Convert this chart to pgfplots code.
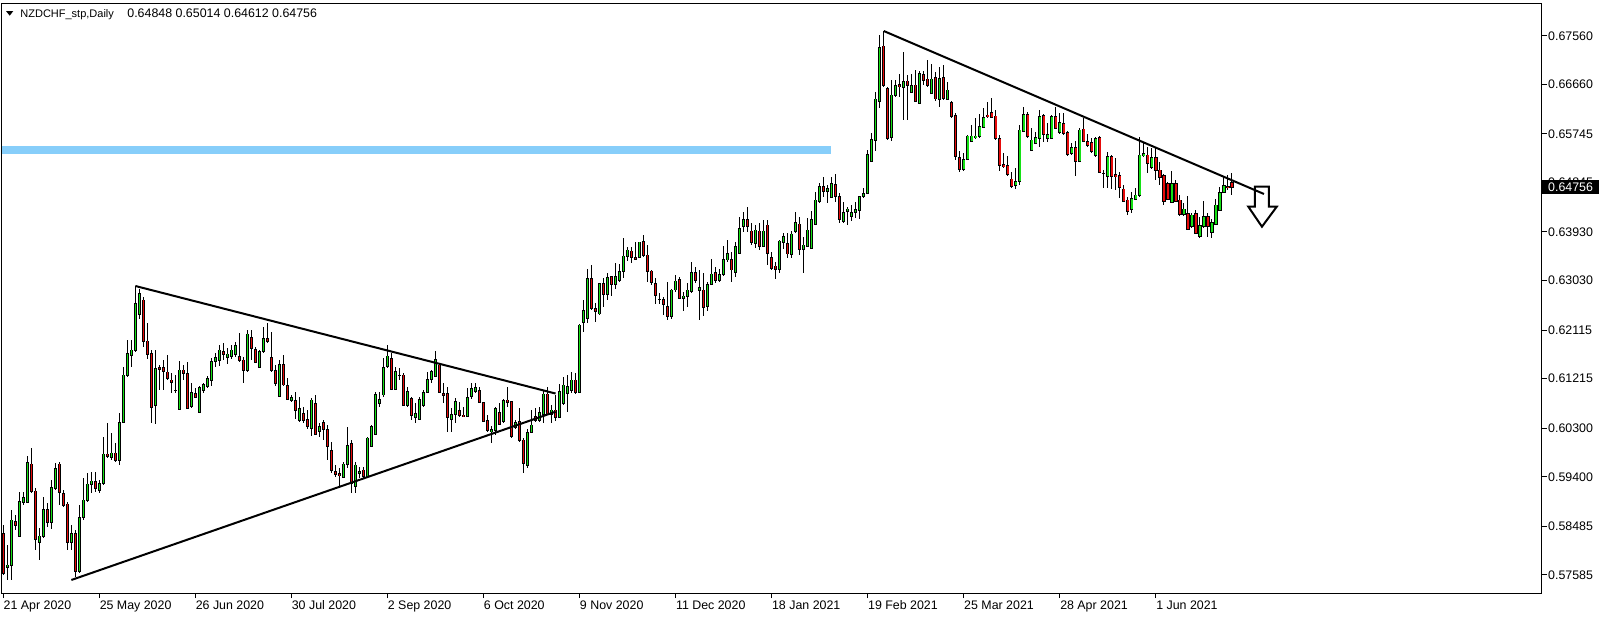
\documentclass[border=0pt]{standalone}
\usepackage{fontspec}
\setmainfont{Liberation Sans}
\usepackage{pgfplots}
\usepackage{pgfplotstable}
\pgfplotsset{compat=1.18}
\definecolor{bull}{RGB}{20,225,20}
\definecolor{bear}{RGB}{230,10,10}
\definecolor{zone}{RGB}{135,206,250}
\newcommand{\lf}{\fontsize{6.2}{7}\selectfont}

\pgfplotstableread{
x o h l c
0 0.58355 0.58508 0.57583 0.57615
1 0.57726 0.58138 0.57491 0.57768
2 0.57768 0.58786 0.57491 0.58601
3 0.58582 0.58693 0.58416 0.58495
4 0.58305 0.59125 0.58292 0.58952
5 0.58921 0.59125 0.58878 0.59026
6 0.58921 0.59785 0.58910 0.59668
7 0.59637 0.59927 0.59095 0.59125
8 0.59137 0.59187 0.58046 0.58244
9 0.58188 0.58447 0.57861 0.58305
10 0.58305 0.59032 0.58262 0.58799
11 0.58799 0.58910 0.58477 0.58551
12 0.58551 0.59341 0.58429 0.59206
13 0.59187 0.59650 0.59156 0.59557
14 0.59637 0.59680 0.58878 0.59113
15 0.59095 0.59156 0.58847 0.58878
16 0.58897 0.58939 0.58046 0.58188
17 0.58188 0.58508 0.58046 0.58355
18 0.58355 0.58416 0.57552 0.57644
19 0.57657 0.58878 0.57615 0.58651
20 0.58651 0.59372 0.58601 0.58971
21 0.58971 0.59465 0.58939 0.59267
22 0.59261 0.59494 0.59095 0.59322
23 0.59310 0.59494 0.59125 0.59187
24 0.59156 0.59341 0.59095 0.59280
25 0.59280 0.60142 0.59248 0.59822
26 0.59822 0.60390 0.59748 0.59772
27 0.59761 0.60205 0.59711 0.59841
28 0.59841 0.60020 0.59674 0.59711
29 0.59711 0.60575 0.59619 0.60409
30 0.60409 0.61437 0.60390 0.61284
31 0.61284 0.61931 0.61252 0.61685
32 0.61654 0.61931 0.61437 0.61746
33 0.61746 0.62931 0.61715 0.62598
34 0.62413 0.62870 0.62314 0.62796
35 0.62672 0.62733 0.61807 0.61900
36 0.61913 0.62240 0.61580 0.61672
37 0.61685 0.61746 0.60401 0.60686
38 0.60729 0.61746 0.60372 0.61408
39 0.61426 0.61469 0.61006 0.61395
40 0.61426 0.61561 0.61006 0.61345
41 0.61339 0.61654 0.61191 0.61215
42 0.61191 0.61315 0.60945 0.61141
43 0.61006 0.61284 0.60945 0.61003
44 0.60649 0.61548 0.60636 0.61376
45 0.61376 0.61469 0.61191 0.61315
46 0.61315 0.61530 0.60649 0.60668
47 0.60710 0.61130 0.60668 0.60964
48 0.60945 0.61038 0.60853 0.60871
49 0.60586 0.61080 0.60575 0.61056
50 0.61006 0.61141 0.60956 0.61112
51 0.61067 0.61265 0.61038 0.61223
52 0.61178 0.61593 0.61080 0.61530
53 0.61530 0.61685 0.61437 0.61611
54 0.61548 0.61839 0.61450 0.61746
55 0.61715 0.61870 0.61561 0.61672
56 0.61611 0.61778 0.61487 0.61672
57 0.61635 0.61839 0.61574 0.61746
58 0.61672 0.61900 0.61611 0.61833
59 0.61622 0.62055 0.61524 0.61548
60 0.61561 0.61622 0.61130 0.61363
61 0.61376 0.62116 0.61345 0.62042
62 0.61981 0.62116 0.61561 0.61778
63 0.61759 0.61807 0.61500 0.61511
64 0.61426 0.61746 0.61408 0.61715
65 0.61715 0.62178 0.61696 0.61963
66 0.61963 0.62240 0.61870 0.61900
67 0.61611 0.62085 0.61345 0.61363
68 0.61363 0.61469 0.61080 0.61130
69 0.60895 0.61561 0.60882 0.61469
70 0.61469 0.61654 0.61080 0.61099
71 0.61093 0.61223 0.60821 0.60834
72 0.60821 0.60914 0.60790 0.60871
73 0.60808 0.60975 0.60464 0.60623
74 0.60451 0.60882 0.60420 0.60668
75 0.60575 0.60697 0.60390 0.60451
76 0.60464 0.60636 0.60279 0.60340
77 0.60298 0.60853 0.60155 0.60821
78 0.60760 0.60914 0.60174 0.60192
79 0.60235 0.60390 0.60142 0.60327
80 0.60401 0.60451 0.60081 0.60279
81 0.60279 0.60359 0.59711 0.59970
82 0.59883 0.60050 0.59465 0.59526
83 0.59502 0.59619 0.59402 0.59452
84 0.59465 0.59557 0.59217 0.59421
85 0.59391 0.59680 0.59372 0.59637
86 0.59637 0.60316 0.59557 0.59983
87 0.60020 0.60081 0.59095 0.59280
88 0.59230 0.59680 0.59095 0.59619
89 0.59465 0.59587 0.59372 0.59502
90 0.59526 0.59587 0.59372 0.59402
91 0.59415 0.60142 0.59402 0.60118
92 0.59970 0.60359 0.59957 0.60327
93 0.60192 0.60975 0.60174 0.60932
94 0.60760 0.60975 0.60697 0.60834
95 0.60914 0.61593 0.60882 0.61426
96 0.61437 0.61839 0.61408 0.61635
97 0.61593 0.61685 0.61006 0.61019
98 0.61019 0.61437 0.61006 0.61345
99 0.61284 0.61408 0.61191 0.61282
100 0.61284 0.61315 0.60710 0.60729
101 0.60723 0.61067 0.60697 0.60975
102 0.60853 0.60882 0.60451 0.60544
103 0.60501 0.60760 0.60401 0.60575
104 0.60464 0.60882 0.60451 0.60834
105 0.60723 0.61006 0.60697 0.60956
106 0.60956 0.61345 0.60945 0.61204
107 0.61204 0.61376 0.61130 0.61345
108 0.61265 0.61733 0.61252 0.61574
109 0.61469 0.61500 0.60945 0.60956
110 0.60945 0.61130 0.60760 0.60914
111 0.60945 0.61067 0.60235 0.60501
112 0.60470 0.60668 0.60235 0.60557
113 0.60562 0.60853 0.60390 0.60790
114 0.60623 0.60790 0.60512 0.60538
115 0.60544 0.60697 0.60501 0.60512
116 0.60512 0.61038 0.60501 0.60871
117 0.60882 0.61141 0.60834 0.61038
118 0.60975 0.61141 0.60945 0.61056
119 0.61006 0.61067 0.60760 0.60771
120 0.60771 0.60790 0.60409 0.60420
121 0.60438 0.60544 0.60235 0.60253
122 0.60235 0.60340 0.60020 0.60279
123 0.60253 0.60697 0.60174 0.60668
124 0.60586 0.60760 0.60359 0.60377
125 0.60420 0.60834 0.60401 0.60808
126 0.60821 0.61056 0.60697 0.60784
127 0.60790 0.60808 0.60113 0.60142
128 0.60316 0.60451 0.60279 0.60401
129 0.60420 0.60668 0.60050 0.60081
130 0.60081 0.60113 0.59476 0.59650
131 0.59619 0.60279 0.59557 0.60216
132 0.60216 0.60636 0.60205 0.60359
133 0.60512 0.60668 0.60420 0.60438
134 0.60438 0.60697 0.60420 0.60586
135 0.60562 0.61006 0.60390 0.60932
136 0.60932 0.61067 0.60544 0.60562
137 0.60562 0.60729 0.60401 0.60636
138 0.60636 0.60914 0.60433 0.60501
139 0.60501 0.61117 0.60483 0.60975
140 0.60760 0.61252 0.60729 0.61099
141 0.60945 0.61284 0.60605 0.61067
142 0.61006 0.61345 0.60956 0.61191
143 0.61191 0.61315 0.60932 0.60956
144 0.60956 0.62220 0.60945 0.62209
145 0.62252 0.62672 0.62085 0.62474
146 0.62333 0.63240 0.62252 0.63073
147 0.63073 0.63319 0.62487 0.62518
148 0.62518 0.62610 0.62270 0.62455
149 0.62413 0.62992 0.62394 0.62981
150 0.62981 0.63073 0.62536 0.62777
151 0.62783 0.63166 0.62672 0.63092
152 0.63103 0.63116 0.62746 0.62962
153 0.62968 0.63351 0.62870 0.63103
154 0.63042 0.63338 0.63010 0.63195
155 0.63195 0.63813 0.63073 0.63486
156 0.63486 0.63658 0.63399 0.63597
157 0.63578 0.63658 0.63362 0.63462
158 0.63462 0.63750 0.63412 0.63425
159 0.63462 0.63750 0.63443 0.63745
160 0.63745 0.63874 0.63473 0.63499
161 0.63504 0.63689 0.63010 0.63195
162 0.63208 0.63227 0.62949 0.62992
163 0.62981 0.63073 0.62598 0.62751
164 0.62690 0.62796 0.62598 0.62687
165 0.62685 0.62733 0.62394 0.62592
166 0.62548 0.63010 0.62301 0.62362
167 0.62362 0.62870 0.62314 0.62857
168 0.62857 0.63134 0.62825 0.63023
169 0.63055 0.63092 0.62690 0.62703
170 0.62696 0.62825 0.62474 0.62746
171 0.62733 0.62981 0.62548 0.62857
172 0.62825 0.63380 0.62807 0.63184
173 0.63184 0.63288 0.62981 0.63029
174 0.62844 0.63227 0.62301 0.62899
175 0.62857 0.63166 0.62376 0.62536
176 0.62548 0.63010 0.62474 0.62962
177 0.62962 0.63425 0.62949 0.63153
178 0.63184 0.63288 0.62981 0.63029
179 0.63029 0.63240 0.63005 0.63147
180 0.63147 0.63671 0.63116 0.63425
181 0.63412 0.63782 0.63380 0.63536
182 0.63425 0.63565 0.63010 0.63227
183 0.63184 0.63750 0.63103 0.63658
184 0.63536 0.64213 0.63523 0.63998
185 0.64028 0.64305 0.63935 0.64165
186 0.64165 0.64387 0.63935 0.64028
187 0.63948 0.64091 0.63689 0.63732
188 0.63721 0.64059 0.63628 0.63967
189 0.63948 0.64091 0.63597 0.63671
190 0.63671 0.64152 0.63647 0.63948
191 0.64059 0.64152 0.63319 0.63536
192 0.63462 0.63565 0.63227 0.63258
193 0.63301 0.63380 0.63066 0.63245
194 0.63245 0.63782 0.63177 0.63763
195 0.63732 0.63906 0.63610 0.63843
196 0.63721 0.63906 0.63443 0.63523
197 0.63523 0.63954 0.63443 0.63893
198 0.63935 0.64305 0.63906 0.64109
199 0.64078 0.64213 0.63504 0.63610
200 0.63610 0.63843 0.63177 0.63689
201 0.63671 0.64183 0.63647 0.63967
202 0.63628 0.64324 0.63610 0.64165
203 0.64078 0.64675 0.64059 0.64522
204 0.64490 0.64831 0.64461 0.64768
205 0.64768 0.64953 0.64583 0.64675
206 0.64675 0.64799 0.64461 0.64738
207 0.64564 0.64953 0.64553 0.64831
208 0.64812 0.64997 0.64490 0.64583
209 0.64583 0.64646 0.64091 0.64165
210 0.64120 0.64490 0.64091 0.64294
211 0.64305 0.64398 0.64059 0.64355
212 0.64213 0.64429 0.64133 0.64294
213 0.64294 0.64490 0.64194 0.64355
214 0.64331 0.64601 0.64165 0.64583
215 0.64583 0.64738 0.64553 0.64646
216 0.64646 0.65447 0.64627 0.65367
217 0.65243 0.65756 0.65230 0.65645
218 0.65632 0.66526 0.65428 0.66391
219 0.66341 0.67575 0.66230 0.67347
220 0.67371 0.67649 0.66618 0.66650
221 0.66589 0.66618 0.65632 0.65663
222 0.65675 0.66742 0.65613 0.66465
223 0.66452 0.66742 0.66433 0.66637
224 0.66663 0.66848 0.66433 0.66618
225 0.66613 0.67255 0.65997 0.66711
226 0.66724 0.66835 0.66002 0.66637
227 0.66515 0.66848 0.66496 0.66637
228 0.66650 0.66927 0.66330 0.66341
229 0.66311 0.66909 0.66293 0.66866
230 0.66848 0.66909 0.66650 0.66729
231 0.66761 0.67112 0.66618 0.66650
232 0.66496 0.67033 0.66478 0.66761
233 0.66785 0.66896 0.66354 0.66391
234 0.66391 0.66988 0.66248 0.66774
235 0.66792 0.67020 0.66372 0.66404
236 0.66391 0.66700 0.66372 0.66557
237 0.66330 0.66354 0.66045 0.66063
238 0.66082 0.66126 0.65262 0.65323
239 0.65312 0.65428 0.65045 0.65095
240 0.65095 0.65386 0.65058 0.65275
241 0.65275 0.65725 0.65262 0.65706
242 0.65601 0.65910 0.65589 0.65706
243 0.65682 0.66045 0.65651 0.65706
244 0.65693 0.66108 0.65663 0.65878
245 0.65860 0.66219 0.65849 0.66052
246 0.66095 0.66341 0.66045 0.66063
247 0.66145 0.66415 0.66034 0.66045
248 0.66076 0.66187 0.65632 0.65663
249 0.65663 0.65725 0.65058 0.65169
250 0.65182 0.65386 0.65108 0.65138
251 0.65157 0.65342 0.64971 0.64997
252 0.64910 0.65045 0.64738 0.64768
253 0.64786 0.65119 0.64725 0.64873
254 0.64860 0.65910 0.64799 0.65817
255 0.65799 0.66248 0.65786 0.66108
256 0.66108 0.66145 0.65663 0.65693
257 0.65447 0.65849 0.65428 0.65632
258 0.65571 0.65775 0.65552 0.65675
259 0.65663 0.66187 0.65508 0.66063
260 0.66082 0.66108 0.65601 0.65737
261 0.65663 0.65941 0.65601 0.65737
262 0.65663 0.66095 0.65651 0.66063
263 0.66063 0.66248 0.65836 0.65849
264 0.65775 0.66126 0.65737 0.65960
265 0.65941 0.66126 0.65725 0.65756
266 0.65775 0.65799 0.65342 0.65367
267 0.65386 0.65571 0.65354 0.65490
268 0.65490 0.65613 0.64971 0.65230
269 0.65230 0.65849 0.65219 0.65817
270 0.65836 0.66045 0.65589 0.65601
271 0.65601 0.65737 0.65508 0.65539
272 0.65589 0.65675 0.65386 0.65415
273 0.65354 0.65693 0.65323 0.65663
274 0.65675 0.65712 0.65016 0.65034
275 0.65016 0.65077 0.64749 0.65013
276 0.64953 0.65415 0.64738 0.65323
277 0.65323 0.65354 0.64725 0.64953
278 0.64997 0.65293 0.64707 0.64953
279 0.64984 0.65045 0.64564 0.64749
280 0.64725 0.64799 0.64490 0.64503
281 0.64522 0.64583 0.64244 0.64305
282 0.64355 0.64675 0.64276 0.64553
283 0.64540 0.64738 0.64522 0.64614
284 0.64601 0.65693 0.64583 0.65354
285 0.65342 0.65571 0.65323 0.65386
286 0.65354 0.65508 0.65016 0.65201
287 0.65119 0.65478 0.65095 0.65305
288 0.65305 0.65478 0.64892 0.65077
289 0.65077 0.65230 0.64799 0.64934
290 0.64971 0.64997 0.64429 0.64503
291 0.64831 0.64849 0.64522 0.64540
292 0.64479 0.65058 0.64461 0.64831
293 0.64831 0.64892 0.64479 0.64490
294 0.64522 0.64614 0.64231 0.64257
295 0.64257 0.64461 0.64231 0.64355
296 0.64276 0.64601 0.63967 0.63985
297 0.64028 0.64276 0.64009 0.64244
298 0.64268 0.64337 0.63887 0.63906
299 0.63843 0.64213 0.63824 0.64041
300 0.64028 0.64503 0.64009 0.64213
301 0.64213 0.64276 0.63843 0.64028
302 0.63924 0.64170 0.63824 0.64102
303 0.64072 0.64540 0.64059 0.64429
304 0.64337 0.64768 0.64318 0.64664
305 0.64664 0.64953 0.64646 0.64786
306 0.64768 0.64984 0.64707 0.64749
307 0.64848 0.65014 0.64612 0.64756
}\candles

\begin{document}
\begin{tikzpicture}[x=1pt,y=1pt]
\path[use as bounding box] (0,0) rectangle (802,309);
\begin{axis}[
  at={(1pt,12.5pt)}, anchor=south west, scale only axis,
  width=769.5pt, height=295pt,
  xmin=-0.325, xmax=384.425, ymin=0.572501, ymax=0.681669,
  axis line style={line width=0.5pt, black},
  xtick={0,24,...,288},
  xticklabels={21 Apr 2020,25 May 2020,26 Jun 2020,30 Jul 2020,2 Sep 2020,6 Oct 2020,9 Nov 2020,11 Dec 2020,18 Jan 2021,19 Feb 2021,25 Mar 2021,28 Apr 2021,1 Jun 2021},
  ytick={0.57585,0.58485,0.59400,0.60300,0.61215,0.62115,0.63030,0.63930,0.64845,0.65745,0.66660,0.67560},
  yticklabels={0.57585,0.58485,0.59400,0.60300,0.61215,0.62115,0.63030,0.63930,0.64845,0.65745,0.66660,0.67560},
  xtick pos=bottom, ytick pos=right, yticklabel pos=right,
  tick align=outside, major tick length=2.5pt,
  tick style={line width=0.5pt, black},
  xticklabel style={font=\lf, anchor=north west, inner sep=0pt, xshift=0pt, yshift=-1pt},
  yticklabel style={font=\lf, anchor=west, inner sep=0pt, xshift=0.5pt},
  clip=true,
]
% support zone
\addplot[zone, line width=3.75pt, line cap=butt, forget plot] coordinates {(-0.325,0.65447) (206.9,0.65447)};
% wicks
\addplot[draw=none, mark=none, forget plot,
  error bars/.cd, y dir=both, y explicit, error mark=none,
  error bar style={draw=black, line width=0.5pt}]
  table[x=x, y expr={(\thisrow{h}+\thisrow{l})/2}, y error expr={(\thisrow{h}-\thisrow{l})/2}] {\candles};
% body outlines
\addplot[draw=none, mark=none, forget plot,
  error bars/.cd, y dir=both, y explicit, error mark=none,
  error bar style={draw=black, line width=1.6pt}]
  table[x=x, y expr={(\thisrow{o}+\thisrow{c})/2}, y error expr={abs(\thisrow{c}-\thisrow{o})/2+0.0000925}] {\candles};
% bull bodies
\addplot[draw=none, mark=none, forget plot,
  restrict expr to domain={\thisrow{c}-\thisrow{o}}{0:1},
  error bars/.cd, y dir=both, y explicit, error mark=none,
  error bar style={draw=bull, line width=0.7pt}]
  table[x=x, y expr={(\thisrow{o}+\thisrow{c})/2}, y error expr={max(abs(\thisrow{c}-\thisrow{o})/2-0.000074,0)}] {\candles};
% bear bodies
\addplot[draw=none, mark=none, forget plot,
  restrict expr to domain={\thisrow{c}-\thisrow{o}}{-1:-0.0000001},
  error bars/.cd, y dir=both, y explicit, error mark=none,
  error bar style={draw=bear, line width=0.7pt}]
  table[x=x, y expr={(\thisrow{o}+\thisrow{c})/2}, y error expr={max(abs(\thisrow{c}-\thisrow{o})/2-0.000074,0)}] {\candles};
% triangle trend lines
\addplot[black, line width=1pt, forget plot] coordinates {(33,0.62931) (138,0.60941)};
\addplot[black, line width=1pt, forget plot] coordinates {(17,0.57491) (138,0.60605)};
% arrow
\addplot[black, line width=1pt, fill=white, forget plot] coordinates {(312.75,0.64768) (316.25,0.64768) (316.25,0.64398) (318.2,0.64398) (314.5,0.64028) (311.1,0.64398) (312.75,0.64398)} -- cycle;
% descending trend line
\addplot[black, line width=1pt, forget plot] coordinates {(220,0.67649) (315,0.64633)};
\coordinate (pbox) at (axis cs:384.425,0.64756);
\end{axis}
\node[fill=black, text=white, anchor=west, inner xsep=3pt, inner ysep=0pt, minimum height=7pt, font=\lf] at (pbox) {0.64756};
\fill (3,303.5) -- (6.65,303.5) -- (4.85,301.15) -- cycle;
\node[anchor=base west, inner sep=0pt, font=\fontsize{5.5}{7}\selectfont] at (10,300.3) {NZDCHF\_stp,Daily};
\node[anchor=base west, inner sep=0pt, font=\lf] at (63.5,300.3) {0.64848 0.65014 0.64612 0.64756};
\end{tikzpicture}
\end{document}
